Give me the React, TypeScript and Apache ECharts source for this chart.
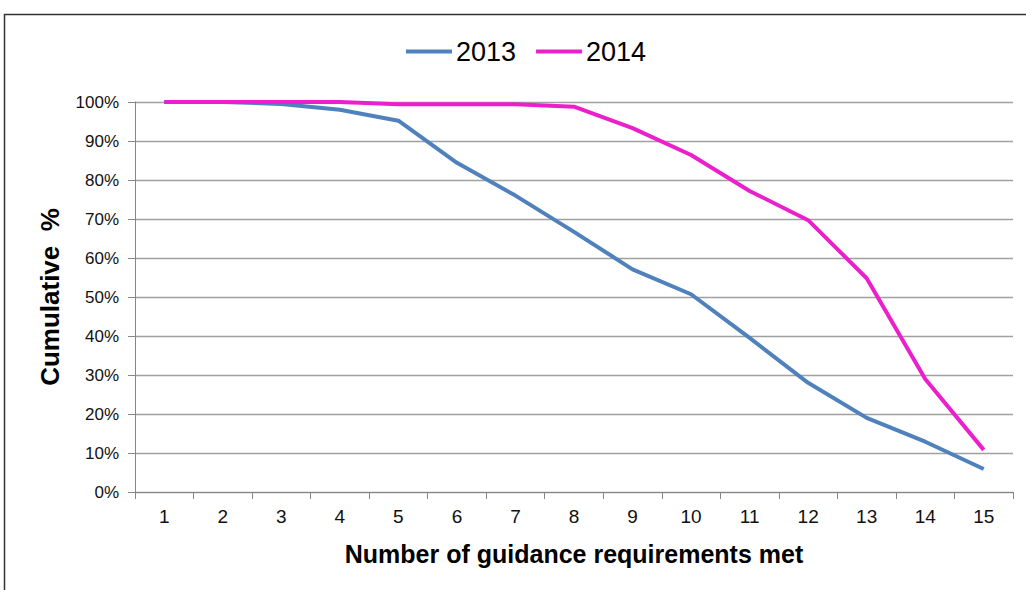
import React, { useEffect, useRef } from "react";
import * as echarts from "echarts";

const categories = ["1", "2", "3", "4", "5", "6", "7", "8", "9", "10", "11", "12", "13", "14", "15"];
const series2013 = [100, 100, 99.5, 98, 95.2, 84.4, 76, 66.7, 57.1, 50.7, 39.5, 28, 19, 12.9, 5.9];
const series2014 = [100, 100, 100, 100, 99.4, 99.4, 99.4, 98.8, 93.3, 86.4, 77.2, 69.7, 54.8, 29, 10.8];
const seriesNames = ["2013", "2014"];
const yTicks = { min: 0, max: 100, interval: 10 };

export default function App() {
  const ref = useRef<HTMLDivElement>(null);
  useEffect(() => {
    if (!ref.current) return;
    const chart = echarts.init(ref.current, null, { renderer: "svg" });
    const font = "'Liberation Sans', Arial, sans-serif";
    chart.setOption({
      animation: false,
      backgroundColor: "#fff",
      textStyle: { fontFamily: font },
      graphic: [
        {
          type: "rect",
          shape: { x: 4.5, y: 14.5, width: 1200, height: 800 },
          style: { fill: "none", stroke: "#333", lineWidth: 1.5 },
          silent: true,
        },
      ],
      legend: {
        top: 33,
        left: 401,
        icon: "rect",
        itemWidth: 46,
        itemHeight: 4,
        itemGap: 20,
        textStyle: { fontSize: 27, color: "#000", fontFamily: font, padding: [0, 0, 0, -1] },
        data: seriesNames,
      },
      grid: { left: 135, right: 13, top: 102, bottom: 98, containLabel: false },
      xAxis: {
        type: "category",
        data: categories,
        boundaryGap: true,
        name: "Number of guidance requirements met",
        nameLocation: "middle",
        nameGap: 49,
        nameTextStyle: { fontSize: 25, fontWeight: "bold", color: "#000", fontFamily: font },
        axisLine: { lineStyle: { color: "#868686", width: 1 } },
        axisTick: { show: true, length: 7, lineStyle: { color: "#868686" } },
        axisLabel: { fontSize: 19, color: "#111", margin: 15, fontFamily: font },
        splitLine: { show: false },
      },
      yAxis: {
        type: "value",
        min: yTicks.min,
        max: yTicks.max,
        interval: yTicks.interval,
        name: "Cumulative\u00a0 %",
        nameLocation: "middle",
        nameRotate: 90,
        nameGap: 72,
        nameTextStyle: { fontSize: 26, fontWeight: "bold", color: "#000", fontFamily: font },
        axisLine: { show: true, lineStyle: { color: "#868686", width: 1 } },
        axisTick: { show: true, length: 7, lineStyle: { color: "#868686" } },
        axisLabel: { fontSize: 17, color: "#111", margin: 16, formatter: "{value}%", fontFamily: font },
        splitLine: { show: true, lineStyle: { color: "#A0A0A0", width: 1.4 } },
      },
      series: [
        {
          name: seriesNames[0],
          type: "line",
          data: series2013,
          showSymbol: false,
          symbol: "none",
          lineStyle: { color: "#4F81BD", width: 4 },
          itemStyle: { color: "#4F81BD" },
        },
        {
          name: seriesNames[1],
          type: "line",
          data: series2014,
          showSymbol: false,
          symbol: "none",
          lineStyle: { color: "#EC1FCC", width: 4 },
          itemStyle: { color: "#EC1FCC" },
        },
      ],
    });
    return () => chart.dispose();
  }, []);
  return (
    <div
      ref={ref}
      style={{ position: "fixed", left: 0, top: 0, width: 1026, height: 590 }}
    />
  );
}
